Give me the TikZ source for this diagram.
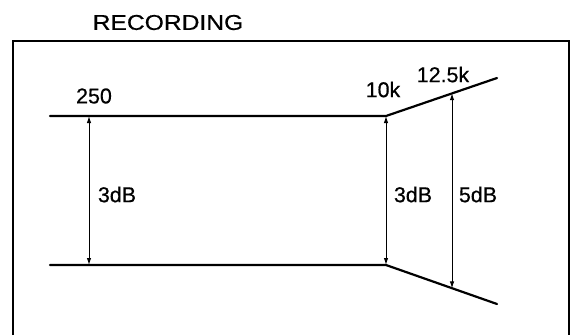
\documentclass[tikz,border=0pt]{standalone}
\usepackage{fontspec}
\setmainfont{Liberation Sans}[FakeBold=0.6]
\usetikzlibrary{arrows.meta}
\begin{document}
\begin{tikzpicture}[x=1bp,y=-1bp,
  frame/.style={line width=1.6bp},
  curve/.style={line width=2.2bp,line cap=round},
  dim/.style={line width=1bp,{Latex[length=7bp,width=4.5bp]}-{Latex[length=7bp,width=4.5bp]}},
  lbl/.style={font=\fontsize{21.5}{24}\selectfont,inner sep=0pt}]
\useasboundingbox (0,0) rectangle (570,335);
% frame
\draw[frame] (13,335) -- (13,41) -- (569,41) -- (569,335);
\node[lbl,xscale=1.15] (title) at (168,22.5) {RECORDING};
% coordinates
\coordinate (tl) at (50,116);
\coordinate (tc) at (386,116);
\coordinate (tr) at (497,78);
\coordinate (bl) at (50,265);
\coordinate (bc) at (386,265);
\coordinate (br) at (497,304);
\coordinate (a1t) at (89,116);
\coordinate (a1b) at (89,265);
\coordinate (a3t) at (452,93.2);
\coordinate (a3b) at (452,288.4);
% response lines
\draw[curve] (tl) -- (tc) -- (tr);
\draw[curve] (bl) -- (bc) -- (br);
% dimension arrows
\draw[dim] (a1t) -- (a1b);
\draw[dim] (tc) -- (bc);
\draw[dim] (a3t) -- (a3b);
% labels
\node[lbl] (f250) at (94,96) {250};
\node[lbl] (f10k) at (383,89.5) {10k};
\node[lbl] (f125k) at (443,74.5) {12.5k};
\node[lbl] (d1) at (117,194.5) {3dB};
\node[lbl] (d2) at (413,194.5) {3dB};
\node[lbl] (d3) at (478,194.5) {5dB};
\end{tikzpicture}
\end{document}
